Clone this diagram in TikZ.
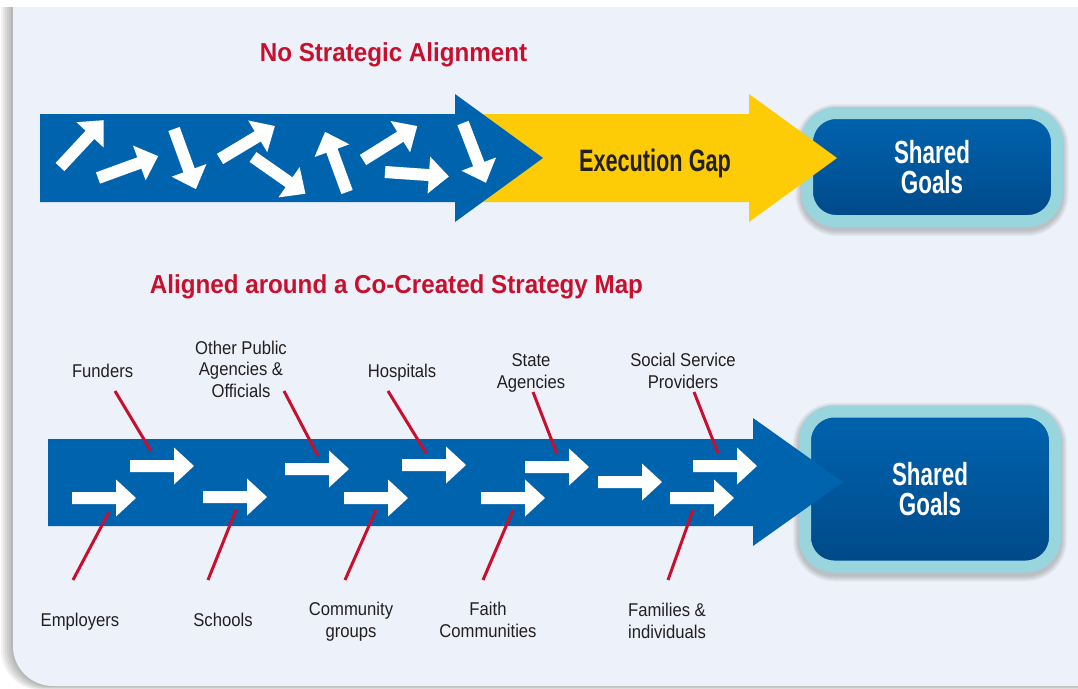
\documentclass[tikz,border=0pt]{standalone}
\usepackage{fontspec}
\setmainfont{Liberation Sans}
\newfontfamily\headfont[FakeStretch=0.93]{Liberation Sans}
\newfontfamily\gapfont[FakeStretch=0.70]{Liberation Sans}
\newfontfamily\tagfont[FakeStretch=0.90]{Liberation Sans}
\definecolor{panel}{RGB}{237,241,249}
\definecolor{flowblue}{RGB}{0,99,174}
\definecolor{deepblue}{RGB}{0,72,135}
\definecolor{gapyellow}{RGB}{254,204,6}
\definecolor{alertred}{RGB}{200,16,46}
\definecolor{rimcyan}{RGB}{152,213,220}
\definecolor{inktext}{RGB}{35,31,32}

\begin{document}
\begin{tikzpicture}[x=1pt,y=-1pt,
     heading/.style={font={\headfont\bfseries\fontsize{26}{30}\selectfont},text=alertred,anchor=base,inner sep=0},
     stakeholder/.style={font={\tagfont\fontsize{18.5}{21.5}\selectfont},text=inktext,align=center,anchor=base,inner sep=0},
     leader/.style={draw=alertred,line width=3pt},
     goalbox/.style={draw=rimcyan,line width=12pt,rounded corners=29pt,minimum width=250pt,
        top color=flowblue,bottom color=deepblue,middle color=flowblue!55!deepblue,
        text=white,align=center,font={\gapfont\bfseries\fontsize{32}{30}\selectfont}},
     flowarrow/.pic={\fill[white] (0,-6)--(44,-6)--(44,-18.5)--(64,0)--(44,18.5)--(44,6)--(0,6)--cycle;}
     ]
   \useasboundingbox (0,0) rectangle (1078,688);

   % panel with its soft shadow
   \fill[white] (0,0) rectangle (1078,688);
   \foreach \d in {2,4,...,12}
      \fill[black,opacity=.05,rounded corners=40pt] (13-\d,-50) rectangle (1200,686+\d/3);
   \fill[panel,rounded corners=40pt] (13,-50) rectangle (1200,686);
   \fill[white] (0,0) rectangle (1078,7);

   % headings
   \node[heading] (noalign) at (393.5,61) {No Strategic Alignment};
   \node[heading] (aligned) at (396.5,293) {Aligned around a Co-Created Strategy Map};

   % goal boxes (drawn first, the arrow tips overlap them)
   \foreach \s in {2,4,...,12}
   {
     \draw[black,opacity=.035,line width=12pt+\s pt,rounded corners=29pt] (807.5,116) rectangle (1056.5,224);
     \draw[black,opacity=.035,line width=12pt+\s pt,rounded corners=29pt] (805,414.5) rectangle (1055,569.5);
   }
   \node[goalbox,minimum height=108pt] (goaltop) at (932,167) {Shared\\Goals};
   \node[goalbox,minimum height=155pt] (goalbottom) at (930,489) {Shared\\Goals};

   % top row: blue arrow pushing into the yellow gap
   \fill[gapyellow] (470,114)--(749,114)--(749,94)--(837,158)--(749,222)--(749,202)--(470,202)--cycle;
   \fill[flowblue] (40,114)--(455,114)--(455,94)--(543,158)--(455,222)--(455,202)--(40,202)--cycle;
   \node[font={\gapfont\bfseries\fontsize{31}{30}\selectfont},text=inktext,anchor=base,inner sep=0]
      (gap) at (655,171) {Execution Gap};

   % scattered arrows, tail point and angle
   \foreach \x/\y/\a in {60/167/47, 98/178/20, 174/129/-70, 220/159/31, 253/157/-35,
                         347/192/110, 363/160/32, 385/172/-4, 463/123/-69}
      \pic[rotate=\a] at (\x,\y) {flowarrow};

   % bottom row: aligned arrows
   \fill[flowblue] (48,439)--(753,439)--(753,418)--(843,482)--(753,546)--(753,526)--(48,526)--cycle;
   \foreach \x/\y in {72/498, 130/466, 203/497, 285/469, 344/498, 402/465,
                      481/498, 525/467, 598/482, 670/498, 693/466}
      \pic at (\x,\y) {flowarrow};

   % stakeholder labels, y = baseline of the last line
   \foreach \name/\x/\y/\txt in {funders/102.6/377/Funders,
          officials/241/397/{Other Public\\Agencies \&\\Officials},
          hospitals/402/377/Hospitals,
          state/531/388/{State\\Agencies},
          social/683/388/{Social Service\\Providers},
          employers/80/626/Employers,
          schools/223/626/Schools,
          community/351/637/{Community\\groups},
          faith/488/637/{Faith\\Communities},
          families/667/638/{Families \&\\individuals}}
      \node[stakeholder] (\name) at (\x,\y) {\txt};

   % leader lines from label to arrow
   \foreach \name/\ax/\ay/\bx/\by in {funders/115/391/151/451, officials/284/391/318/456,
          hospitals/388/391/426/453, state/533/392/557/454, social/694/392/718/453,
          employers/73/580/109/512, schools/208/580/236/510, community/345/580/376/510,
          faith/483/580/513/510, families/668/580/693/510}
   {
     \coordinate (\name-a) at (\ax,\ay);
     \coordinate (\name-b) at (\bx,\by);
     \draw[leader] (\name-a) -- (\name-b);
   }
\end{tikzpicture}
\end{document}
